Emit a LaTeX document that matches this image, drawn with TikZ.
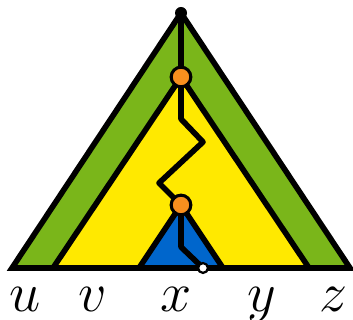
\documentclass[tikz,border=0pt]{standalone}
\usepackage{amsmath,amssymb,graphicx}
\usepackage{tikz}

\definecolor{leafgreen}{RGB}{122,182,26}
\definecolor{sunyellow}{RGB}{255,233,0}
\definecolor{deepblue}{RGB}{0,102,204}
\definecolor{dotorange}{RGB}{247,143,30}

\newcommand{\bigvar}[1]{\scalebox{1.6}{\(#1\)}}

\tikzset{
  tri/.style={draw=black,line width=4pt,line join=miter},
  spine/.style={draw=black,line width=4pt,line join=round,line cap=round},
  mid/.style={circle,fill=dotorange,draw=black,line width=2.2pt,inner sep=0pt,minimum size=14pt},
  leaf/.style={circle,fill=white,draw=black,line width=1.6pt,inner sep=0pt,minimum size=7pt},
  lbl/.style={inner sep=0pt,anchor=base}
}

\begin{document}
\begin{tikzpicture}[x=0.025cm,y=0.025cm]
    \useasboundingbox (0,0) rectangle (353,320);
    \coordinate (R) at (181,307);
    \coordinate (A) at (181,243);
    \coordinate (B) at (181,115);
    \coordinate (L) at (203,52);
    % nested triangles
    \filldraw[tri,fill=leafgreen] (R) -- (12,52) -- (350,52) -- cycle;
    \filldraw[tri,fill=sunyellow] (A) -- (53,52) -- (309,52) -- cycle;
    \filldraw[tri,fill=deepblue] (B) -- (139,52) -- (223,52) -- cycle;
    % path through the tree
    \draw[spine] (R) -- (A) -- (181,201) -- (203,178) -- (159,137) -- (B)
      -- (181,73) -- (L);
    \fill (R) circle (6);
    \node[mid] (a) at (A) {};
    \node[mid] (b) at (B) {};
    \node[leaf] (l) at (L) {};
    \node[lbl] (u) at (25,8) {\Huge\bigvar{u}};
    \node[lbl] (v) at (93,8) {\Huge\bigvar{v}};
    \node[lbl] (x) at (176,8) {\Huge\bigvar{x}};
    \node[lbl] (y) at (262,8) {\Huge\bigvar{y}};
    \node[lbl] (z) at (333,8) {\Huge\bigvar{z}};
\end{tikzpicture}
\end{document}
